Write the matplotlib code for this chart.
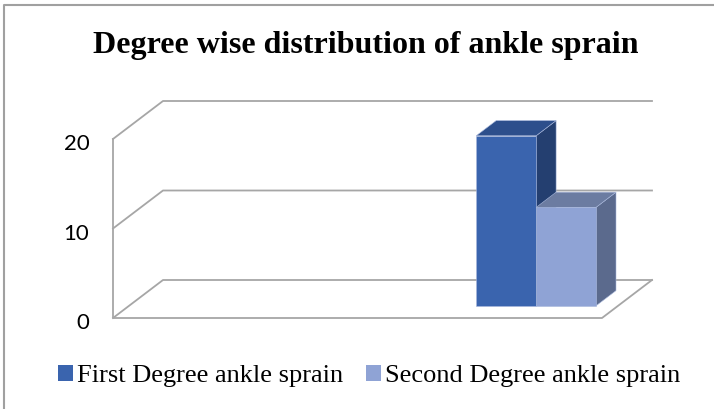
import matplotlib.pyplot as plt
from matplotlib.patches import Polygon, Rectangle
from matplotlib.lines import Line2D
from matplotlib.transforms import IdentityTransform, ScaledTranslation

# data
series = ["First Degree ankle sprain", "Second Degree ankle sprain"]
values = [19, 11]
yticks = [0, 10, 20]
title = "Degree wise distribution of ankle sprain"
caption = "Figure 2: Degree wise distribution of ankle sprain"

front_cols = ["#3a64ae", "#8fa3d5"]
top_cols = ["#2d4f8c", "#6c7ca1"]
side_cols = ["#243f70", "#5b6a8d"]
grid_col = "#a6a6a6"

W, H = 714, 409
fig = plt.figure(figsize=(W / 100, H / 100), dpi=100)
ax = fig.add_axes([113 / W, 91 / H, 489 / W, 179 / H])
ax.set_xlim(-3.33, 0.67)
ax.set_ylim(0, 20)
ax.patch.set_visible(False)
for s in ax.spines.values():
    s.set_visible(False)
ax.set_xticks([])
ax.set_yticks(yticks)
ax.tick_params(axis="y", length=0, pad=17, labelsize=16)
shift = ScaledTranslation(0, -3 / 100, fig.dpi_scale_trans)
for lab in ax.get_yticklabels():
    lab.set_fontfamily("Lato")
    lab.set_transform(lab.get_transform() + shift)

# fake 3d depth in pixels
DX, DY = 50, 38


def pt(x, v, d):
    px, py = ax.transData.transform((x, v))
    return (px + d * DX, py + d * DY)


def line(pts, **kw):
    xs, ys = zip(*pts)
    fig.add_artist(Line2D(xs, ys, transform=IdentityTransform(), **kw))


x0, x1 = ax.get_xlim()
for v in yticks:
    line([pt(x0, v, 0), pt(x0, v, 1), pt(x1, v, 1)], color=grid_col, lw=1.3, zorder=2)
line([pt(x0, yticks[-1], 0), pt(x0, 0, 0), pt(x1, 0, 0), pt(x1, 0, 1)],
     color=grid_col, lw=1.3, zorder=2)

n = len(values)
w = 0.49
d0, d1 = 0.32, 0.72
for i, v in enumerate(values):
    xl = (i - n / 2) * w
    xr = xl + w
    side = [pt(xr, 0, d0), pt(xr, 0, d1), pt(xr, v, d1), pt(xr, v, d0)]
    top = [pt(xl, v, d0), pt(xr, v, d0), pt(xr, v, d1), pt(xl, v, d1)]
    front = [pt(xl, 0, d0), pt(xr, 0, d0), pt(xr, v, d0), pt(xl, v, d0)]
    for poly, c in [(side, side_cols[i]), (top, top_cols[i]), (front, front_cols[i])]:
        fig.add_artist(Polygon(poly, closed=True, transform=IdentityTransform(),
                               facecolor=c, edgecolor="#a9b8dc", lw=0.4, zorder=3 + i))

# chart border
line([(4, 0), (4, H - 5), (W, H - 5)], color="#a0a0a0", lw=1.5, zorder=1)

fig.text(93 / W, 1 - 53 / H, title, ha="left", va="baseline",
         fontfamily="Liberation Serif", fontweight="bold", fontsize=23)
# caption of the page, cut off at the top
fig.text(-2 / W, 1 + 9 / H, caption, ha="left", va="baseline",
         fontfamily="Liberation Serif", fontweight="bold", fontsize=20)

handles = [Rectangle((0, 0), 1, 1, facecolor=c) for c in front_cols]
fig.legend(handles, series, loc="center", bbox_to_anchor=(369 / W, 1 - 376 / H),
           ncol=2, frameon=False, prop={"family": "Liberation Serif", "size": 19},
           handlelength=0.57, handleheight=0.57, handletextpad=0.15, columnspacing=0.87,
           borderpad=0, borderaxespad=0)

fig.savefig("out.png", dpi=100)
